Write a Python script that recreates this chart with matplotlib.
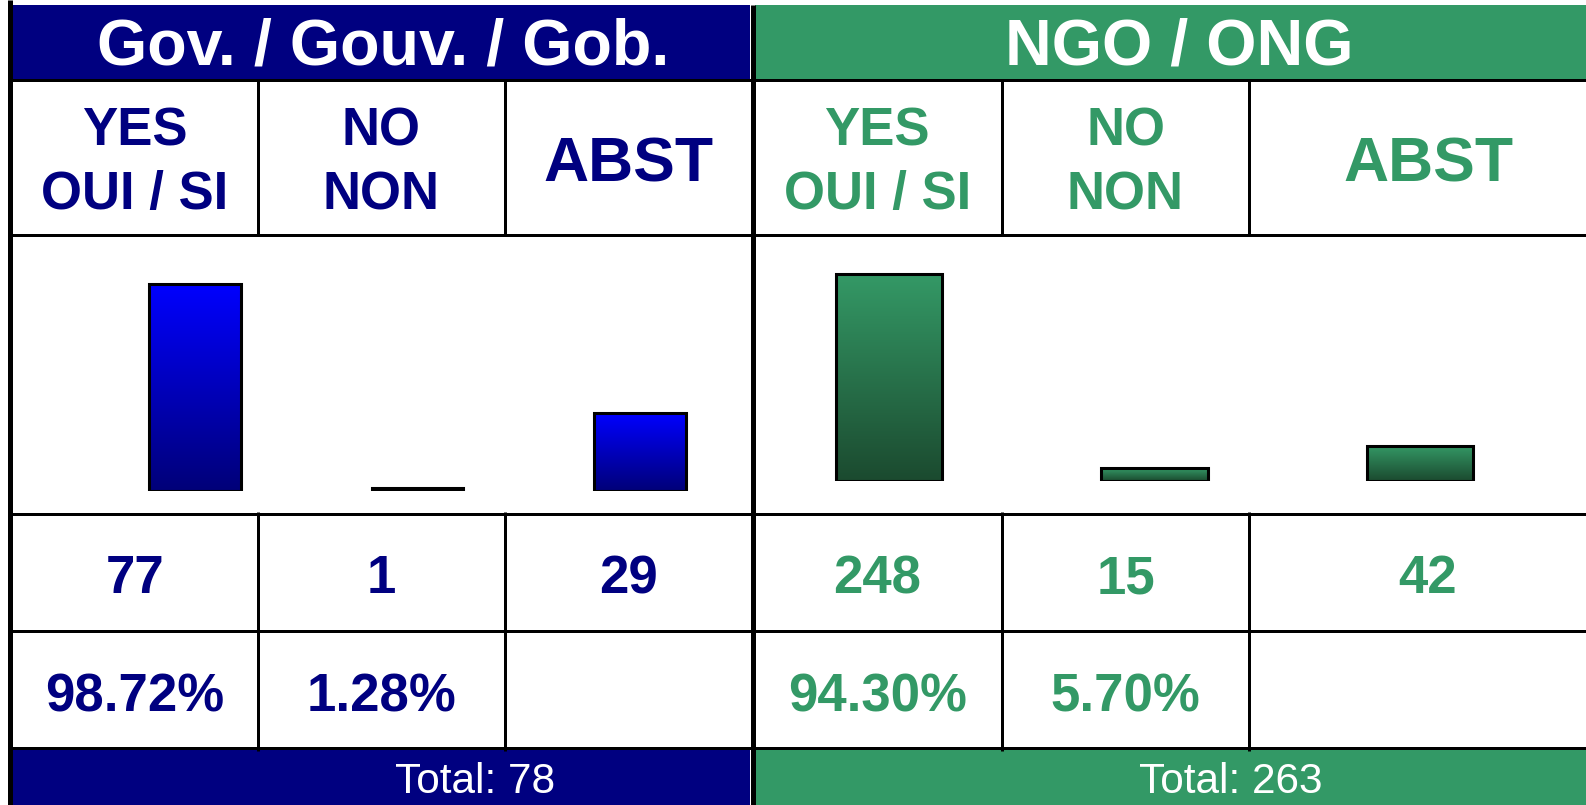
import numpy as np
import matplotlib
matplotlib.use("Agg")
import matplotlib.pyplot as plt
from matplotlib.patches import Rectangle
from matplotlib.colors import LinearSegmentedColormap

# ---------------- data ----------------
groups = ["Gov. / Gouv. / Gob.", "NGO / ONG"]
categories = ["YES\nOUI / SI", "NO\nNON", "ABST"]
gov_counts = [77, 1, 29]
ngo_counts = [248, 15, 42]
total_label = "Total: {}"

# ---------------- style ----------------
NAVY = "#000080"
GREEN = "#339966"
W, H = 1586, 805
FONT = "Liberation Sans"
PX = 72.0 / 100.0  # points per pixel at dpi 100

fig = plt.figure(figsize=(W / 100, H / 100), dpi=100)
fig.patch.set_facecolor("white")

# full-figure axes in pixel units for the table layout
tab = fig.add_axes([0, 0, 1, 1])
tab.set_xlim(0, W)
tab.set_ylim(H, 0)
tab.axis("off")
tab.set_zorder(0)

# layout (pixels)
col_edges_gov = [12, 257.5, 505, 752.5]
col_edges_ngo = [752.5, 1002, 1249, 1607]
row_head = (5, 80)
row_total = (748, 805)

# coloured bands
tab.add_patch(Rectangle((12, row_head[0]), 738, row_head[1] - row_head[0], color=NAVY, lw=0, zorder=1))
tab.add_patch(Rectangle((755, row_head[0]), W - 755, row_head[1] - row_head[0], color=GREEN, lw=0, zorder=1))
tab.add_patch(Rectangle((12, row_total[0]), 738, row_total[1] - row_total[0], color=NAVY, lw=0, zorder=1))
tab.add_patch(Rectangle((755, row_total[0]), W - 755, row_total[1] - row_total[0], color=GREEN, lw=0, zorder=1))

# grid lines
for y in [80.5, 235, 513.5, 631, 747.5]:
    tab.plot([10, W], [y, y], color="black", lw=3 * PX, solid_capstyle="butt", zorder=2)
for x in [257.5, 505, 1002, 1249]:
    tab.plot([x, x], [80, 236], color="black", lw=3 * PX, solid_capstyle="butt", zorder=2)
    tab.plot([x, x], [512, 751], color="black", lw=3 * PX, solid_capstyle="butt", zorder=2)
tab.plot([9.5, 9.5], [0, H], color="black", lw=5 * PX, solid_capstyle="butt", zorder=3)
tab.plot([752.5, 752.5], [5, H], color="black", lw=5 * PX, solid_capstyle="butt", zorder=3)


def centers(edges):
    return [(edges[i] + edges[i + 1]) / 2 for i in range(len(edges) - 1)]


def draw_group(name, counts, color, edges, head_cx, total_cx):
    # header
    tab.text(head_cx, 65, name, color="white", fontsize=46.5, fontweight="bold",
             family=FONT, ha="center", va="baseline", zorder=4)
    cx = centers(edges)
    total = counts[0] + counts[1]
    for i, lab in enumerate(categories):
        lines = lab.split("\n")
        if len(lines) == 2:
            for ln, yb in zip(lines, [146, 209]):
                tab.text(cx[i], yb, ln, color=color, fontsize=38, fontweight="bold",
                         family=FONT, ha="center", va="baseline", zorder=4)
        else:
            tab.text(cx[i], 182, lines[0], color=color, fontsize=45, fontweight="bold",
                     family=FONT, ha="center", va="baseline", zorder=4)
        tab.text(cx[i], 593, str(counts[i]), color=color, fontsize=38, fontweight="bold",
                 family=FONT, ha="center", va="baseline", zorder=4)
        if i < 2:
            pct = "{:.2f}%".format(100.0 * counts[i] / total)
            tab.text(cx[i], 711, pct, color=color, fontsize=38, fontweight="bold",
                     family=FONT, ha="center", va="baseline", zorder=4)
    tab.text(total_cx, 793, total_label.format(total), color="white", fontsize=30.5,
             family=FONT, ha="center", va="baseline", zorder=4)


draw_group(groups[0], gov_counts, NAVY, col_edges_gov, 383, 475)
draw_group(groups[1], ngo_counts, GREEN, col_edges_ngo, 1179, 1231)


def bar_axes(x_left, x_right, y_top, y_base, y_max_px, counts, width, c_top, c_bot):
    ax = fig.add_axes([x_left / W, 1 - y_base / H, (x_right - x_left) / W, (y_base - y_top) / H])
    ax.patch.set_alpha(0)
    ax.set_zorder(5)
    ymax = max(counts) * (y_base - y_top) / (y_base - y_max_px)
    xs = np.arange(len(counts))
    bars = ax.bar(xs, counts, width=width, color="none", edgecolor="black",
                  linewidth=2.2, zorder=3)
    cmap = LinearSegmentedColormap.from_list("g", [c_bot, c_top])
    grad = np.linspace(0, 1, 256).reshape(-1, 1)
    for b in bars:
        x0 = b.get_x()
        im = ax.imshow(grad, cmap=cmap, extent=(x0, x0 + b.get_width(), 0, b.get_height()),
                       origin="lower", aspect="auto", zorder=2, interpolation="bilinear")
        im.set_clip_path(b)
    ax.set_xlim(-0.5, len(counts) - 0.5)
    ax.set_ylim(0, ymax)
    ax.axis("off")
    return ax


bar_axes(83.75, 751.25, 250, 491, 284, gov_counts, 0.41, "#0000FF", "#000078")
bar_axes(756.25, 1552.75, 240, 481, 274, ngo_counts, 0.40, "#349966", "#1B4A2F")

fig.savefig("out.png", dpi=100)
